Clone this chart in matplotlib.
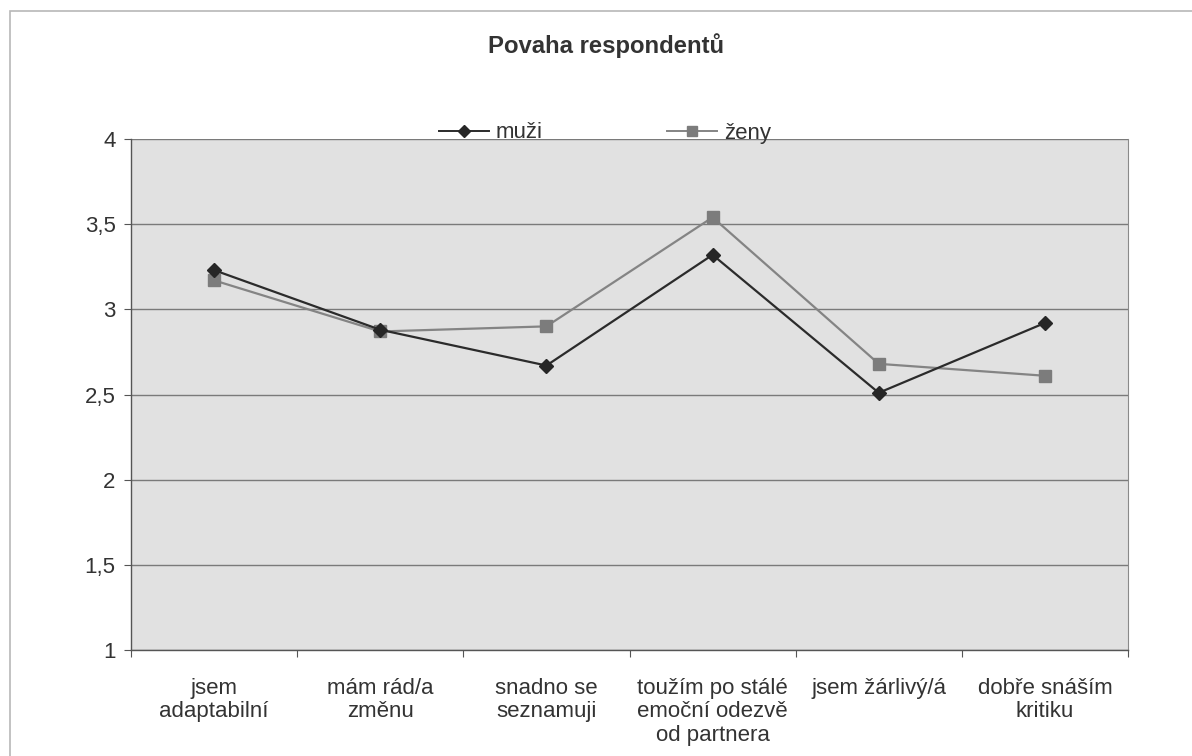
import matplotlib
matplotlib.use("Agg")
import matplotlib.pyplot as plt
from matplotlib.lines import Line2D
from matplotlib.patches import Rectangle
from matplotlib.ticker import FuncFormatter

plt.rcParams["font.family"] = ["Liberation Sans", "DejaVu Sans"]

# data
categories = ["jsem\nadaptabilní", "mám rád/a\nzměnu", "snadno se\nseznamuji",
              "toužím po stálé\nemoční odezvě\nod partnera", "jsem žárlivý/á",
              "dobře snáším\nkritiku"]
muzi = [3.23, 2.88, 2.67, 3.32, 2.51, 2.92]
zeny = [3.17, 2.87, 2.90, 3.54, 2.68, 2.61]
y_ticks = [1, 1.5, 2, 2.5, 3, 3.5, 4]

W, H = 1192, 756
fig = plt.figure(figsize=(W / 100, H / 100), dpi=100)
fig.patch.set_facecolor("white")

# thin frame of the chart area (scan crop cuts right/bottom edges)
fig.patches.append(Rectangle((10 / W, -0.1), 1.2, 1 - 11 / H + 0.1,
                             transform=fig.transFigure, fill=False,
                             edgecolor="#b8b8b8", lw=1.2))

left, right, top, bottom = 131, 1128, 139, 650
ax = fig.add_axes([left / W, 1 - bottom / H, (right - left) / W, (bottom - top) / H])
ax.set_facecolor("#e1e1e1")

x = list(range(len(categories)))
ax.plot(x, zeny, color="#848484", lw=1.6, marker="s", ms=8,
        mfc="#7c7c7c", mec="#7c7c7c", zorder=3)
ax.plot(x, muzi, color="#2b2b2b", lw=1.6, marker="D", ms=7,
        mfc="#262626", mec="#262626", zorder=4)

ax.set_xlim(-0.5, len(categories) - 0.5)
ax.set_ylim(1, 4)
ax.set_yticks(y_ticks)
ax.yaxis.set_major_formatter(FuncFormatter(lambda v, _: f"{v:g}".replace(".", ",")))
ax.grid(axis="y", color="#7a7a7a", lw=1.0)
ax.set_axisbelow(True)

# category ticks sit on the boundaries, labels at the centres
ax.set_xticks([i - 0.5 for i in range(len(categories) + 1)])
ax.set_xticklabels([])
ax.set_xticks(x, minor=True)
ax.set_xticklabels(categories, minor=True, fontsize=16, color="#333333",
                   linespacing=1.15)
ax.tick_params(axis="x", which="major", length=5, color="#555555", direction="out")
ax.tick_params(axis="x", which="minor", length=0, pad=20)
ax.tick_params(axis="y", length=5, color="#555555", labelsize=16,
               labelcolor="#333333", pad=6)

for s in ["left", "bottom"]:
    ax.spines[s].set_color("#555555")
    ax.spines[s].set_linewidth(1.0)
ax.spines["top"].set_visible(False)
ax.spines["right"].set_color("#8a8a8a")

fig.text(606 / W, 1 - 46 / H, "Povaha respondentů", ha="center", va="center",
         fontsize=17.2, fontweight="bold", color="#333333")

handles = [Line2D([], [], color="#2b2b2b", lw=1.4, marker="D", ms=6,
                  mfc="#262626", mec="#262626"),
           Line2D([], [], color="#848484", lw=1.4, marker="s", ms=7,
                  mfc="#7c7c7c", mec="#7c7c7c")]
fig.legend(handles, ["muži", "ženy"], loc="center", ncol=2,
           bbox_to_anchor=(605 / W, 1 - 133 / H), frameon=False,
           fontsize=16, handlelength=2.25, handletextpad=0.3,
           columnspacing=5.6, labelcolor="#333333", borderpad=0.1)

fig.savefig("out.png", dpi=100, facecolor="white")
